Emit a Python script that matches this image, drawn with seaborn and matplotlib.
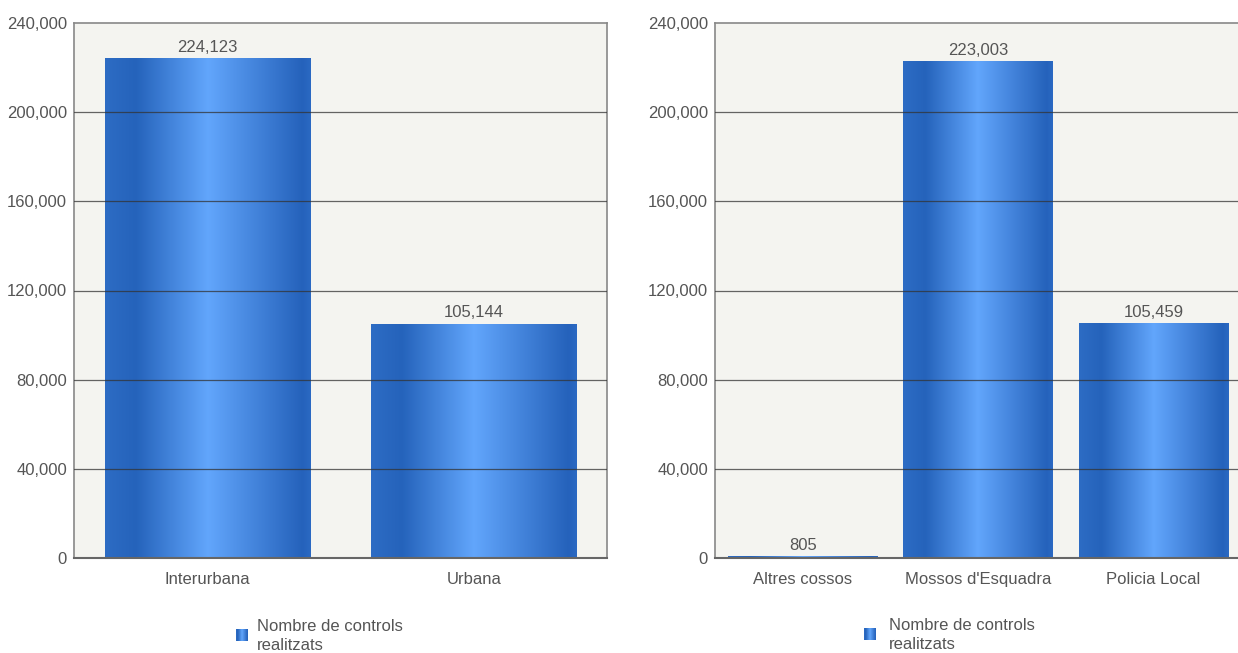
import numpy as np
import pandas as pd
import matplotlib
matplotlib.use("Agg")
import matplotlib.pyplot as plt
from matplotlib.colors import LinearSegmentedColormap
import seaborn as sns

# ---- data ----
cats_left = ["Interurbana", "Urbana"]
vals_left = [224123, 105144]
cats_right = ["Altres cossos", "Mossos d'Esquadra", "Policia Local"]
vals_right = [805, 223003, 105459]
y_ticks = [0, 40000, 80000, 120000, 160000, 200000, 240000]
legend_label = "Nombre de controls\nrealitzats"

sns.set_theme(style="white")
plt.rcParams["font.family"] = ["Liberation Sans", "DejaVu Sans"]

W, H = 1238, 653
fig = plt.figure(figsize=(W / 100, H / 100), dpi=100)

grad = LinearSegmentedColormap.from_list(
    "bar", [(0.0, "#2d6cc4"), (0.15, "#2563bb"), (0.5, "#62a6fc"),
            (0.96, "#2562bb"), (1.0, "#2b69c3")])
grad_img = np.linspace(0, 1, 256).reshape(1, -1)

text_col = "#555555"
bg = "#f4f4f0"


def px_axes(x0, y0, x1, y1):
    return fig.add_axes([x0 / W, 1 - y1 / H, (x1 - x0) / W, (y1 - y0) / H])


def draw(ax, cats, vals, width):
    df = pd.DataFrame({"cat": cats, "val": vals})
    sns.barplot(data=df, x="cat", y="val", ax=ax, color="#2f6fc8",
                width=width, saturation=1, edgecolor="none", zorder=2)
    ax.set_facecolor(bg)
    ax.set_ylim(0, 240000)
    ax.set_xlim(-0.5, len(cats) - 0.5)
    for p in ax.patches:
        x, y = p.get_x(), p.get_y()
        w, h = p.get_width(), p.get_height()
        im = ax.imshow(grad_img, cmap=grad, aspect="auto",
                       extent=[x, x + w, y, y + h], zorder=2.1,
                       interpolation="bilinear")
        im.set_clip_path(p)
        p.set_facecolor("none")
    ax.set_xlim(-0.5, len(cats) - 0.5)
    ax.set_ylim(0, 240000)
    for i, v in enumerate(vals):
        ax.text(i, v + 1500, f"{v:,}", ha="center", va="bottom",
                fontsize=12, color=text_col, zorder=5)
    for t in y_ticks[1:-1]:
        ax.axhline(t, color="#333333", lw=0.9, alpha=0.75, zorder=3)
    ax.set_yticks(y_ticks)
    ax.set_yticklabels([f"{t:,}" for t in y_ticks])
    ax.tick_params(axis="y", length=3, width=1, color="#666666",
                   labelsize=12, labelcolor=text_col, pad=2)
    ax.tick_params(axis="x", length=0, labelsize=12, labelcolor=text_col,
                   pad=10)
    ax.set_xlabel("")
    ax.set_ylabel("")
    for s in ["left", "top", "right"]:
        ax.spines[s].set_color("#888888")
        ax.spines[s].set_linewidth(1.2)
    ax.spines["bottom"].set_color("#666666")
    ax.spines["bottom"].set_linewidth(1.5)
    for s in ax.spines.values():
        s.set_visible(True)


axL = px_axes(74, 23, 607, 558)
draw(axL, cats_left, vals_left, 0.77)
axR = px_axes(715, 23, 1241, 558)
draw(axR, cats_right, vals_right, 0.85)


def legend(x_sq, y_sq, x_txt, y_txt):
    lax = fig.add_axes([x_sq / W, 1 - (y_sq + 12) / H, 12 / W, 12 / H])
    lax.imshow(grad_img, cmap=grad, aspect="auto", extent=[0, 1, 0, 1])
    lax.set_axis_off()
    fig.text(x_txt / W, 1 - y_txt / H, legend_label, ha="left", va="center",
             fontsize=12, color=text_col, linespacing=1.35)


legend(236, 629, 257, 636)
legend(864, 628, 889, 635)

fig.savefig("out.png", dpi=100)
